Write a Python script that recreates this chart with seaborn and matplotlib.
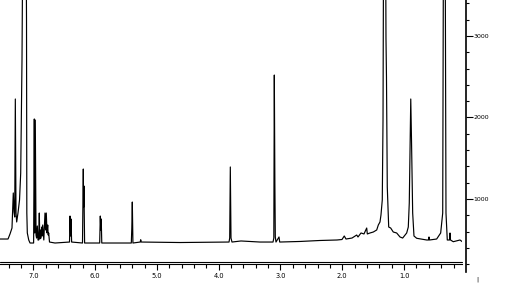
import matplotlib
matplotlib.use("Agg")
import matplotlib.pyplot as plt
import pandas as pd
import seaborn as sns
from matplotlib.ticker import MultipleLocator, FixedLocator

# ---- data (chemical shift in ppm, intensity) ----
ppm = [
    7.539, 7.409, 7.377, 7.345, 7.324, 7.312, 7.301, 7.291, 7.280, 7.269,
    7.248, 7.223, 7.204, 7.183, 7.139, 7.110, 7.105, 7.097, 7.074, 7.053,
    6.995, 6.984, 6.976, 6.968, 6.956, 6.947, 6.935, 6.924, 6.913, 6.903,
    6.895, 6.887, 6.875, 6.864, 6.856, 6.848, 6.830, 6.811, 6.801, 6.790,
    6.778, 6.767, 6.759, 6.751, 6.738, 6.649,
    6.414, 6.406, 6.396, 6.390, 6.380,
    6.204, 6.191, 6.186, 6.181, 6.170,
    5.926, 5.916, 5.908, 5.901, 5.892,
    5.414, 5.406, 5.398, 5.388,
    5.270, 5.262, 5.254, 4.626,
    3.833, 3.822, 3.812, 3.801, 3.785, 3.639, 3.332,
    3.121, 3.108, 3.100, 3.091, 3.084, 3.073, 3.024, 3.013,
    2.684, 2.361, 2.086, 2.005, 1.968, 1.940, 1.843, 1.767, 1.746, 1.697,
    1.649, 1.605, 1.595, 1.552, 1.498, 1.443, 1.417, 1.390, 1.374, 1.353,
    1.341, 1.317, 1.293, 1.285, 1.272, 1.249, 1.217, 1.175, 1.120, 1.066,
    1.023, 0.958, 0.932, 0.916, 0.903, 0.892, 0.880, 0.861, 0.840, 0.796,
    0.634, 0.605, 0.597, 0.589, 0.473, 0.408, 0.375, 0.350, 0.322, 0.301,
    0.265, 0.257, 0.249, 0.204, 0.095, 0.058,
]
intensity = [
    509, 509, 571, 644, 1074, 841, 779, 2227, 828, 718,
    828, 988, 1319, 2705, 8000, 3196, 828, 583, 497, 460,
    460, 1982, 583, 1969, 558, 521, 669, 497, 497, 828,
    509, 620, 521, 656, 546, 681, 497, 828, 620, 828,
    583, 681, 558, 583, 472, 460,
    472, 791, 546, 755, 472,
    460, 1368, 900, 1160, 460,
    460, 791, 620, 755, 460,
    460, 644, 963, 460,
    472, 500, 472, 466,
    472, 521, 1393, 521, 472, 485, 472,
    472, 521, 2521, 1196, 534, 472, 534, 472,
    479, 491, 497, 503, 546, 509, 521, 558, 534, 583,
    571, 644, 571, 583, 595, 620, 681, 718, 804, 988,
    1969, 8000, 2975, 2497, 1147, 656, 644, 595, 583, 534,
    521, 583, 656, 951, 1601, 2227, 1724, 828, 546, 518,
    497, 497, 534, 497, 509, 583, 828, 8000, 828, 497,
    497, 583, 497, 476, 497, 476,
]
ppm_ticks = [7.0, 6.0, 5.0, 4.0, 3.0, 2.0, 1.0]
ppm_tick_labels = ["7.0", "6.0", "5.0", "4.0", "3.0", "2.0", "1.0"]
scale_ticks = [1000, 2000, 3000]
scale_tick_labels = ["1000", "2000", "3000"]
scale_minor_ticks = [200, 400, 600, 800, 1200, 1400, 1600, 1800, 2200, 2400,
                     2600, 2800, 3200, 3400]

# ---- style ----
sns.set_style("white")
plt.rcParams["font.family"] = ["DejaVu Sans"]

W, H = 507, 300
fig = plt.figure(figsize=(W / 100, H / 100), dpi=100)
fig.patch.set_facecolor("white")

# main spectrum axes
ax = fig.add_axes([0, 35.7 / H, 462.3 / W, 264.3 / H])
df = pd.DataFrame({"ppm": ppm, "intensity": intensity})
sns.lineplot(data=df, x="ppm", y="intensity", sort=False, estimator=None,
             color="black", linewidth=0.85, ax=ax)
ax.set_xlim(7.539, 0.058)
ax.set_ylim(198.8, 3441.7)
ax.set_xlabel("")
ax.set_ylabel("")
ax.set_yticks([])
for s in ("top", "left", "right"):
    ax.spines[s].set_visible(False)
ax.spines["bottom"].set_linewidth(0.8)
ax.spines["bottom"].set_color("black")
ax.plot([0, 1], [0.0098, 0.0098], transform=ax.transAxes, color="black",
        linewidth=0.8, clip_on=False)
ax.set_xticks(ppm_ticks, ppm_tick_labels)
ax.xaxis.set_minor_locator(MultipleLocator(0.2))
ax.tick_params(axis="x", which="both", bottom=True, top=False)
ax.tick_params(axis="x", which="major", direction="out", length=4.6, width=0.8,
               labelsize=4.8, pad=2.0, color="black", labelcolor="black")
ax.tick_params(axis="x", which="minor", direction="out", length=2.8, width=0.8,
               color="black")
ax.patch.set_visible(False)

# right intensity scale
ax2 = fig.add_axes([466 / W, 0, 0.0001, 1])
ax2.set_ylim(-239.3, 3441.7)
ax2.patch.set_visible(False)
for s in ("top", "left", "bottom"):
    ax2.spines[s].set_visible(False)
ax2.spines["right"].set_bounds(104, 3441.7)
ax2.spines["right"].set_linewidth(1.2)
ax2.spines["right"].set_color("black")
ax2.set_xticks([])
ax2.yaxis.tick_right()
ax2.set_yticks(scale_ticks, scale_tick_labels)
ax2.yaxis.set_minor_locator(FixedLocator(scale_minor_ticks))
ax2.tick_params(axis="y", which="both", right=True, left=False)
ax2.tick_params(axis="y", which="major", direction="out", length=5.0, width=0.8,
                labelsize=4.5, pad=0.6, color="black", labelcolor="black")
ax2.tick_params(axis="y", which="minor", direction="out", length=2.5, width=0.8,
                color="black")
ax2.set_ylim(-239.3, 3441.7)

fig.text(477 / W, 1 - 279.5 / H, "|", ha="center", va="center", fontsize=4.5,
         color="black")

fig.savefig("out.png", dpi=100, facecolor="white")
